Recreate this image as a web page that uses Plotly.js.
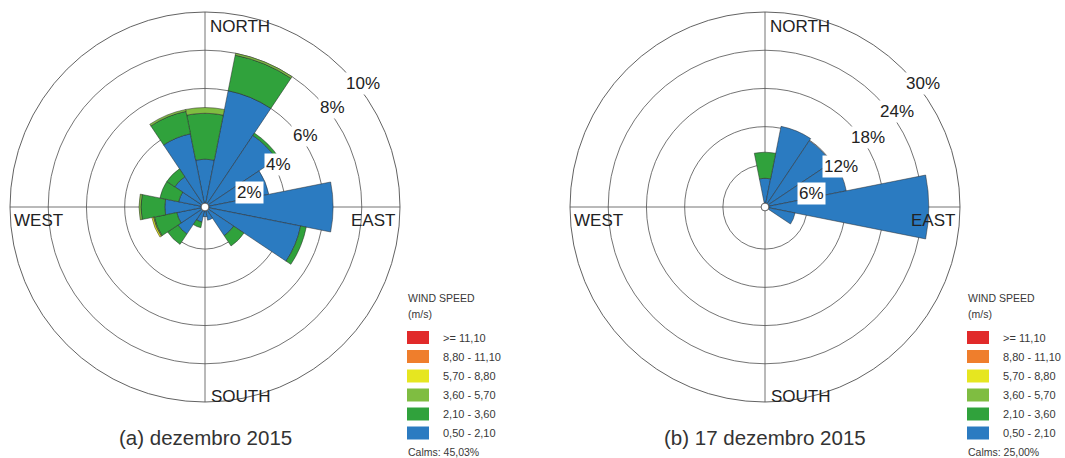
<!DOCTYPE html>
<html>
<head>
<meta charset="utf-8">
<script src="https://cdn.plot.ly/plotly-3.0.1.min.js"></script>
<style>html,body{margin:0;padding:0;background:#fff;}#chart{width:1065px;height:458px;}</style>
</head>
<body>
<div id="chart"></div>
<script>
// ---- data ----
const directions = ['N','NNE','NE','ENE','E','ESE','SE','SSE','S','SSW','SW','WSW','W','WNW','NW','NNW'];
const speedBins = ['0,50 - 2,10','2,10 - 3,60','3,60 - 5,70','5,70 - 8,80','8,80 - 11,10','>= 11,10'];
const binColors = ['#2b7bc1','#30a23c','#7fbd41','#e6e620','#ef7e2c','#e12a2a'];

// (a) dezembro 2015 : % per direction, per speed bin
const decBlue       = [2.3, 6.0, 4.3, 3.2, 6.5, 4.9, 1.6, 0.5, 0.3, 0.6, 1.5, 1.3, 1.9, 1.2, 1.7, 3.7];
const decGreen      = [2.4, 1.9, 0.15, 0, 0, 0.3, 0.65, 0, 0, 0.3, 0.65, 1.2, 1.25, 1.0, 0.5, 1.2];
const decLightGreen = [0.3, 0.1, 0, 0, 0, 0, 0, 0, 0, 0, 0, 0.05, 0.1, 0, 0, 0.1];
const decYellow     = [0, 0, 0, 0, 0, 0, 0, 0, 0, 0, 0, 0.08, 0, 0, 0, 0];
const decOrange     = [0, 0, 0, 0, 0, 0, 0, 0, 0, 0, 0, 0, 0, 0, 0, 0];
const decRed        = [0, 0, 0, 0, 0, 0, 0, 0, 0, 0, 0, 0, 0, 0, 0, 0];

// (b) 17 dezembro 2015
const d17Blue       = [3.9, 12.3, 11.9, 12.4, 25.1, 4.2, 0, 0, 0, 0, 0, 0, 0, 0, 0, 0];
const d17Green      = [4.1, 0, 0, 0, 0, 0, 0, 0, 0, 0, 0, 0, 0, 0, 0, 0];
const d17LightGreen = [0, 0, 0, 0, 0, 0, 0, 0, 0, 0, 0, 0, 0, 0, 0, 0];
const d17Yellow     = [0, 0, 0, 0, 0, 0, 0, 0, 0, 0, 0, 0, 0, 0, 0, 0];
const d17Orange     = [0, 0, 0, 0, 0, 0, 0, 0, 0, 0, 0, 0, 0, 0, 0, 0];
const d17Red        = [0, 0, 0, 0, 0, 0, 0, 0, 0, 0, 0, 0, 0, 0, 0, 0];

const decRings = [2, 4, 6, 8, 10];
const d17Rings = [6, 12, 18, 24, 30];
const titles = ['(a) dezembro 2015', '(b) 17 dezembro 2015'];
const calms = ['Calms: 45,03%', 'Calms: 25,00%'];
const compassLabels = ['NORTH', 'EAST', 'SOUTH', 'WEST'];

// ---- layout helpers ----
const W = 1065, H = 458;
const FONT = 'Liberation Sans, Arial, sans-serif';
const px = x => x / W;
const py = y => 1 - y / H;
const HOLE = 0.02;

const roses = [
  {id: 'polar', cx: 205, cy: 207, R: 195, rings: decRings,
   series: [decBlue, decGreen, decLightGreen, decYellow, decOrange, decRed],
   ringBear: [72, 60, 54.5, 52, 52], ringOff: 5, legX: 407},
  {id: 'polar2', cx: 765, cy: 207, R: 195, rings: d17Rings,
   series: [d17Blue, d17Green, d17LightGreen, d17Yellow, d17Orange, d17Red],
   ringBear: [74, 62, 56, 54, 52], ringOff: 6, legX: 967}
];

const traces = [];
const annotations = [];
const shapes = [];
const layout = {
  width: W, height: H,
  margin: {l: 0, r: 0, t: 0, b: 0},
  paper_bgcolor: '#fff',
  showlegend: false,
  font: {family: FONT, color: '#222'}
};

roses.forEach((rose, k) => {
  const rmax = rose.rings[rose.rings.length - 1];
  rose.series.forEach((vals, i) => {
    traces.push({
      type: 'barpolar',
      subplot: rose.id,
      name: speedBins[i],
      theta: directions,
      r: vals.map(v => v > 0 ? v : null),
      marker: {color: binColors[i], line: {color: '#2a2a2a', width: 0.5}},
      hoverinfo: 'skip'
    });
  });
  layout[rose.id] = {
    domain: {x: [px(rose.cx - rose.R), px(rose.cx + rose.R)],
             y: [py(rose.cy + rose.R), py(rose.cy - rose.R)]},
    hole: HOLE,
    bgcolor: 'rgba(0,0,0,0)',
    barmode: 'stack',
    bargap: 0,
    radialaxis: {range: [0, rmax], tickmode: 'array', tickvals: rose.rings,
                 showticklabels: false, ticks: '', showline: false,
                 gridcolor: '#505050', gridwidth: 0.8},
    angularaxis: {type: 'category', categoryarray: directions, rotation: 90,
                  direction: 'clockwise', tickmode: 'array', tickvals: ['N', 'E', 'S', 'W'],
                  showticklabels: false, ticks: '', showline: true,
                  linecolor: '#505050', linewidth: 0.9, gridcolor: '#505050', gridwidth: 0.8}
  };
  // ring labels
  rose.rings.forEach((v, j) => {
    const holePx = HOLE * rose.R;
    const rp = holePx + v / rmax * (rose.R - holePx) + rose.ringOff;
    const b = rose.ringBear[j] * Math.PI / 180;
    annotations.push({
      xref: 'paper', yref: 'paper', showarrow: false,
      x: px(rose.cx + rp * Math.sin(b)), y: py(rose.cy - rp * Math.cos(b)),
      xanchor: 'center', yanchor: 'middle',
      text: v + '%', font: {size: 17, color: '#222', family: FONT},
      bgcolor: '#fff', borderpad: 1
    });
  });
  // compass labels
  const cpos = [
    {x: rose.cx + 3, y: rose.cy - 181, xa: 'left'},
    {x: rose.cx + rose.R - 3, y: rose.cy + 13, xa: 'right'},
    {x: rose.cx + 4, y: rose.cy + 189, xa: 'left'},
    {x: rose.cx - rose.R + 2, y: rose.cy + 13, xa: 'left'}
  ];
  compassLabels.forEach((t, j) => {
    annotations.push({
      xref: 'paper', yref: 'paper', showarrow: false,
      x: px(cpos[j].x), y: py(cpos[j].y), xanchor: cpos[j].xa, yanchor: 'middle',
      text: t, font: {size: 17, color: '#222', family: FONT}
    });
  });
  // subplot title
  annotations.push({
    xref: 'paper', yref: 'paper', showarrow: false,
    x: px(rose.cx), y: py(437), xanchor: 'center', yanchor: 'middle',
    text: titles[k], font: {size: 20.5, color: '#333', family: FONT}
  });
  // legend
  const lx = rose.legX;
  annotations.push({xref: 'paper', yref: 'paper', showarrow: false,
    x: px(lx - 1), y: py(298), xanchor: 'left', yanchor: 'middle',
    text: 'WIND SPEED', font: {size: 10.5, color: '#383838', family: FONT}});
  annotations.push({xref: 'paper', yref: 'paper', showarrow: false,
    x: px(lx - 1), y: py(314), xanchor: 'left', yanchor: 'middle',
    text: '(m/s)', font: {size: 10.5, color: '#383838', family: FONT}});
  const rowY = [433, 414, 395, 376, 356.5, 337.5]; // blue (bottom) -> red (top)
  speedBins.forEach((lab, i) => {
    const yc = rowY[i];
    shapes.push({type: 'rect', xref: 'paper', yref: 'paper',
      x0: px(lx), x1: px(lx + 22), y0: py(yc + 6.5), y1: py(yc - 6.5),
      fillcolor: binColors[i], line: {width: 0}});
    annotations.push({xref: 'paper', yref: 'paper', showarrow: false,
      x: px(lx + 34), y: py(yc), xanchor: 'left', yanchor: 'middle',
      text: lab, font: {size: 11, color: '#383838', family: FONT}});
  });
  annotations.push({xref: 'paper', yref: 'paper', showarrow: false,
    x: px(lx - 1), y: py(452), xanchor: 'left', yanchor: 'middle',
    text: calms[k], font: {size: 10.5, color: '#383838', family: FONT}});
});

layout.annotations = annotations;
layout.shapes = shapes;
Plotly.newPlot('chart', traces, layout, {staticPlot: true, displayModeBar: false});
</script>
</body>
</html>
